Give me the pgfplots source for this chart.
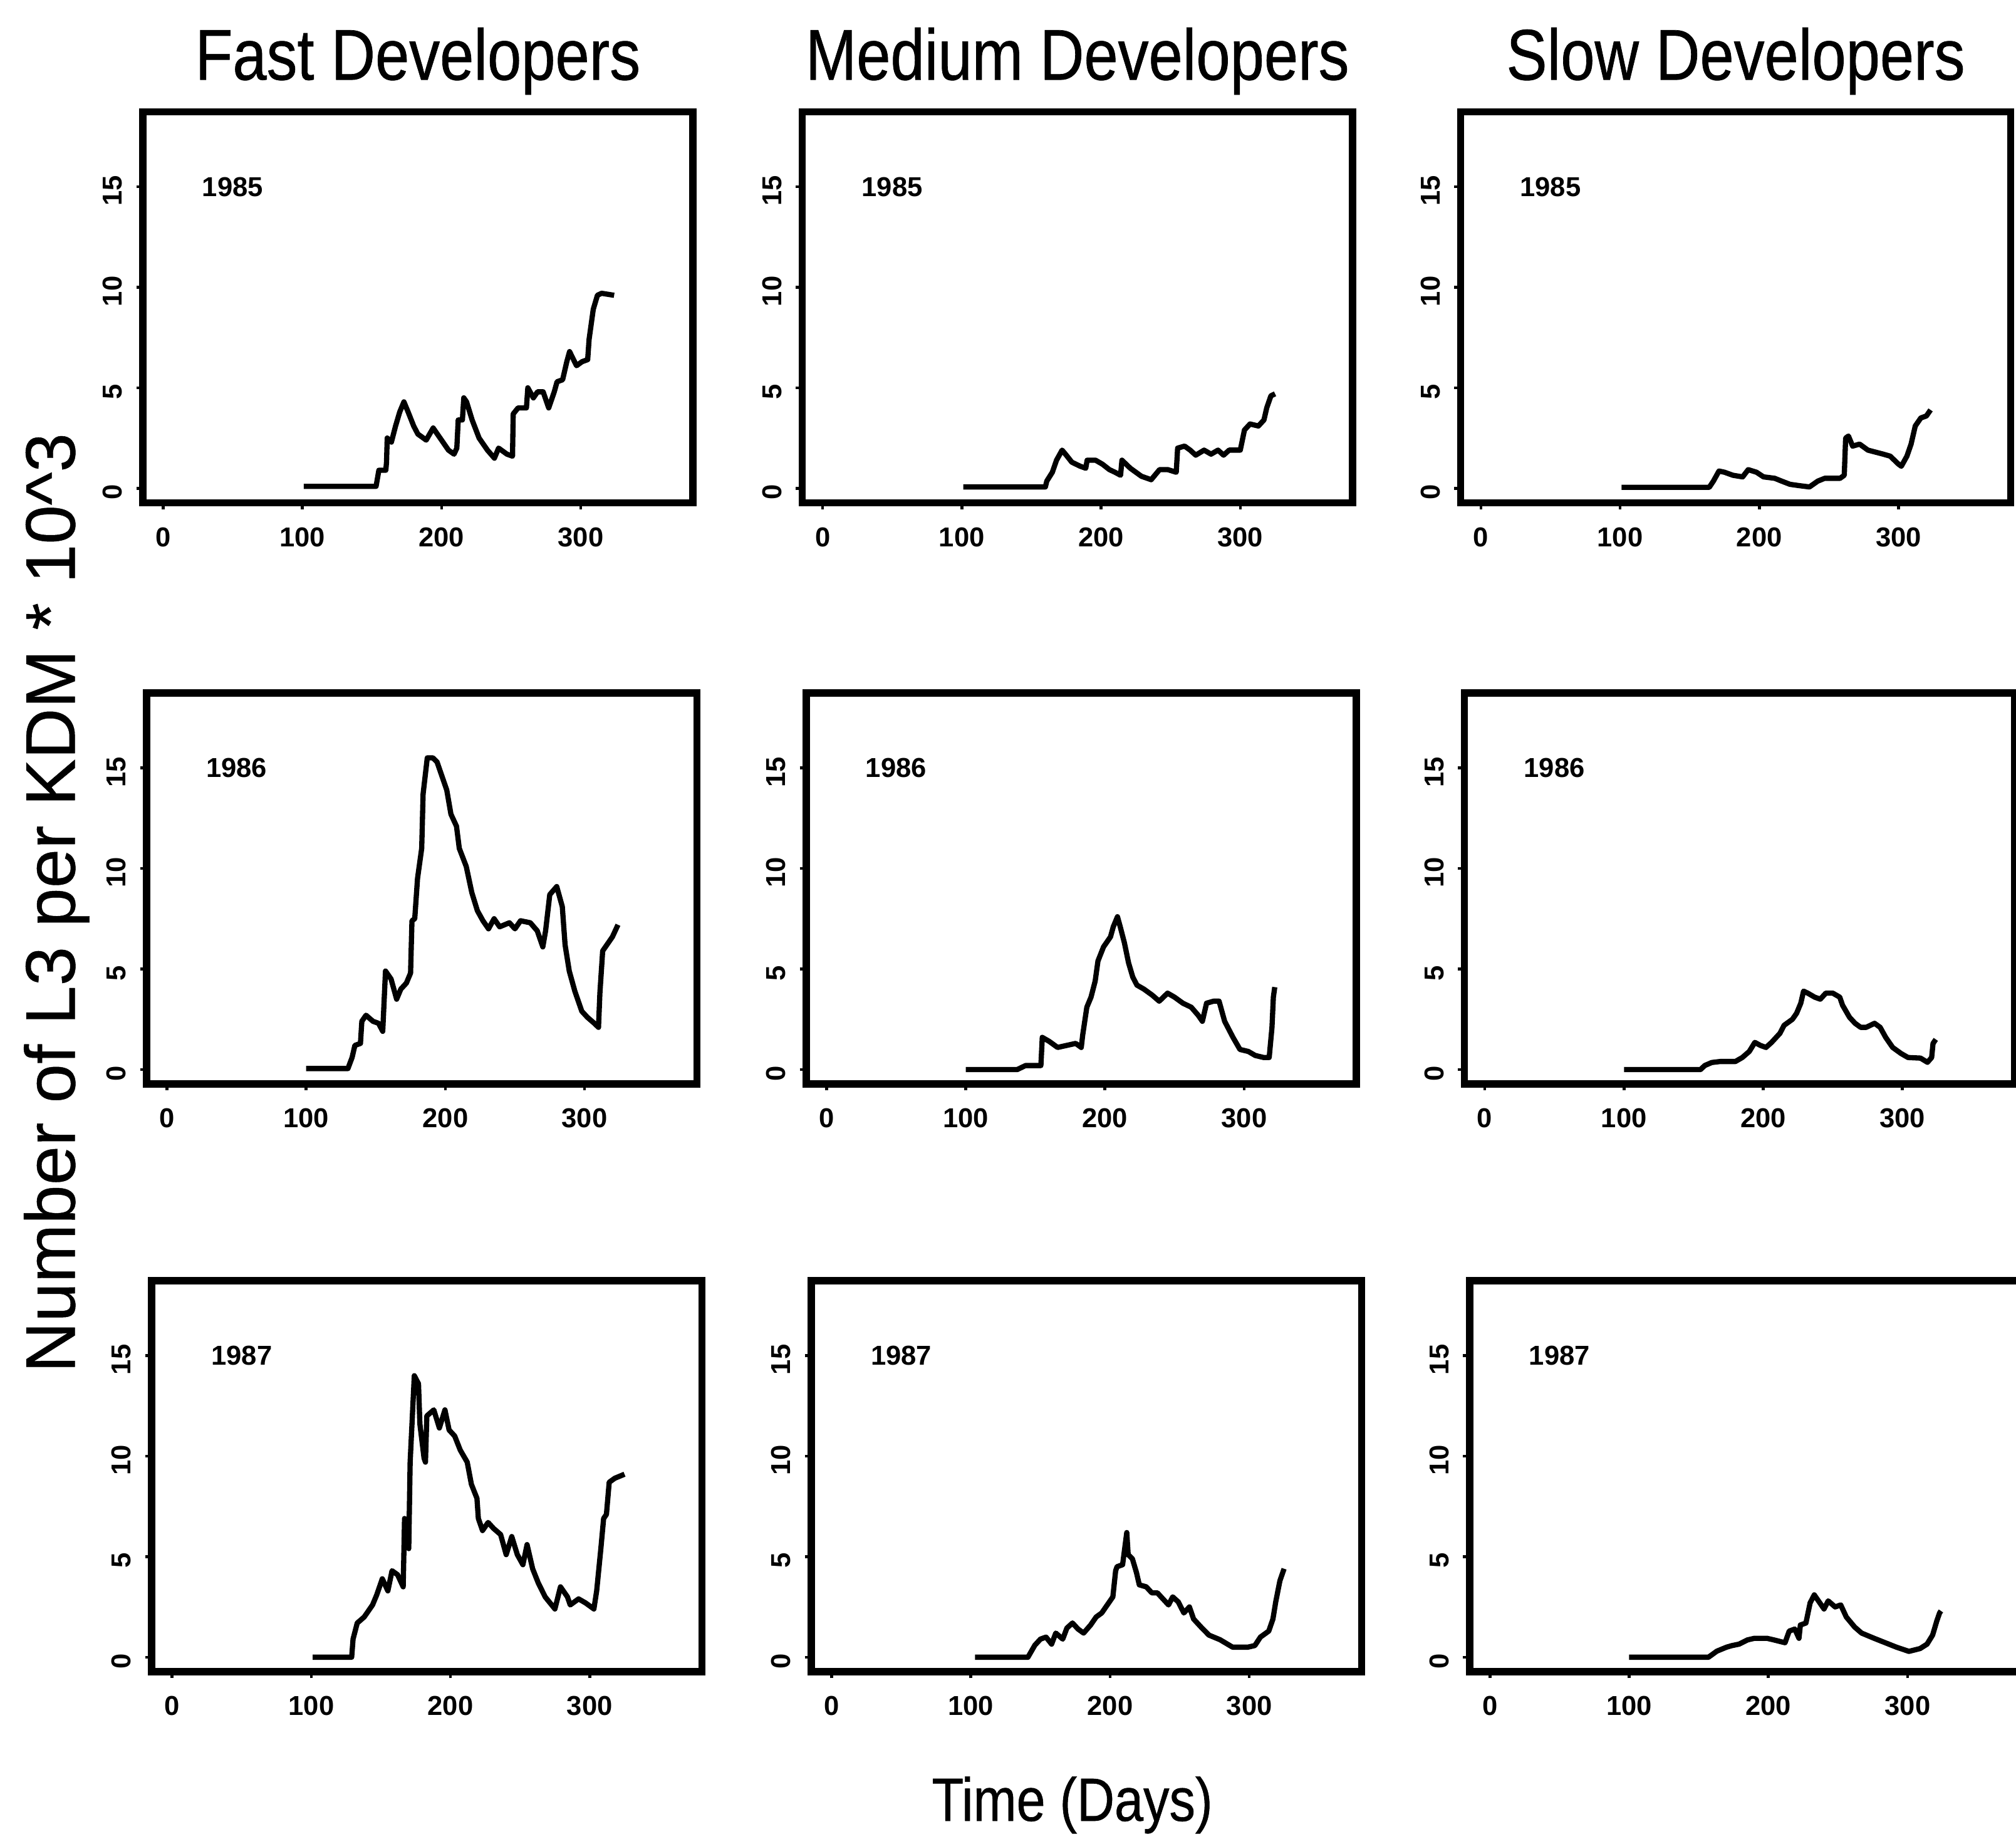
\documentclass[border=0pt]{standalone}
\usepackage{fontspec}
\setmainfont{Liberation Sans}
\newfontfamily\titlefont[FakeStretch=0.85, FakeBold=0.6]{Liberation Sans}
\newfontfamily\labelfont[FakeBold=0.4]{Liberation Sans}
\usepackage{pgfplots}
\pgfplotsset{compat=1.18}

\pgfplotsset{
  panel/.style={
    scale only axis,
    width=136.96pt, height=97.28pt,
    xmin=-14.64, xmax=380.64,
    ymin=-0.72, ymax=18.72,
    xtick={0,100,200,300}, ytick={0,5,10,15},
    xtick pos=bottom, ytick pos=left,
    tick align=outside,
    major tick length=1.6pt,
    tick style={black, line width=0.7pt},
    axis line style={line width=1.8pt},
    /pgf/number format/assume math mode=true,
    ticklabel style={font=\bfseries\fontsize{6.8}{7}\selectfont},
    xticklabel style={anchor=north, yshift=-1.0pt},
    yticklabel style={rotate=90, anchor=south, xshift=-1.0pt},
  },
  curve/.style={black, no marks, line width=1.3pt, line join=round},
}
\tikzset{year/.style={font=\bfseries\fontsize{6.8}{7}\selectfont}}

\begin{document}
\begin{tikzpicture}[x=0.32pt,y=0.32pt]
\useasboundingbox (0,0) rectangle (1568,1434);

% ---------- 1985 ----------
\begin{axis}[panel, at={(35.52pt,431.04pt)}, anchor=north west]
\addplot[curve] coordinates {(101,0.1)(153,0.1)(155,0.9)(160,0.9)(160.5,1.3)(161,2.5)(164,2.3)(167,3.1)(170,3.8)(173,4.3)(176,3.8)(180,3.1)(183,2.7)(189,2.4)(194,3.0)(200,2.4)(205,1.9)(209,1.7)(211,2.0)(212,3.4)(215,3.4)(216,4.5)(218,4.3)(222,3.4)(227,2.5)(233,1.9)(238,1.5)(241,2.0)(247,1.7)(251,1.6)(251.5,3.7)(255,4.0)(261,4.0)(262,5.0)(266,4.5)(269,4.8)(273,4.8)(277,4.0)(281,4.8)(283,5.3)(287,5.4)(290,6.3)(292,6.8)(297,6.1)(301,6.3)(305,6.4)(306,7.4)(309,8.9)(312,9.6)(315,9.7)(324,9.6)};
\node[year] at (axis cs:50,15) {1985};
\end{axis}

\begin{axis}[panel, at={(199.68pt,431.04pt)}, anchor=north west]
\addplot[curve] coordinates {(101,0.07)(160,0.07)(161,0.36)(165,0.8)(168,1.4)(172,1.9)(175,1.65)(179,1.3)(185,1.1)(189,1.0)(190,1.4)(196,1.4)(201,1.2)(206,0.93)(210,0.8)(214,0.65)(215,1.4)(221,1.0)(225,0.8)(229,0.6)(236,0.43)(242,0.93)(248,0.93)(254,0.8)(255,2.0)(260,2.1)(264,1.9)(268,1.65)(274,1.9)(279,1.7)(284,1.9)(288,1.65)(292,1.9)(300,1.9)(303,2.9)(307,3.2)(313,3.1)(317,3.4)(319,4.0)(322,4.6)(325,4.7)};
\node[year] at (axis cs:50,15) {1985};
\end{axis}

\begin{axis}[panel, at={(363.52pt,431.04pt)}, anchor=north west]
\addplot[curve] coordinates {(101,0.05)(164,0.05)(167,0.36)(171,0.86)(175,0.8)(181,0.65)(188,0.57)(192,0.93)(198,0.8)(203,0.57)(211,0.5)(216,0.36)(222,0.2)(228,0.14)(236,0.07)(242,0.36)(247,0.5)(258,0.5)(261,0.65)(262,2.5)(264,2.6)(267,2.1)(272,2.2)(278,1.9)(289,1.7)(294,1.6)(300,1.2)(302,1.1)(306,1.6)(309,2.2)(312,3.1)(316,3.5)(320,3.6)(323,3.9)};
\node[year] at (axis cs:50,15) {1985};
\end{axis}

% ---------- 1986 ----------
\begin{axis}[panel, at={(36.48pt,286.4pt)}, anchor=north west]
\addplot[curve] coordinates {(100,0.05)(130,0.05)(133,0.6)(135,1.2)(139,1.3)(140,2.4)(143,2.7)(148,2.4)(152,2.3)(155,1.9)(157,4.9)(161,4.5)(165,3.5)(168,4.0)(172,4.3)(175,4.8)(176,7.4)(178,7.5)(180,9.5)(183,11.0)(184,13.7)(187,15.5)(191,15.5)(194,15.3)(197,14.7)(201,13.9)(204,12.7)(208,12.1)(210,11.0)(215,10.1)(219,8.8)(223,7.9)(227,7.4)(231,7.0)(235,7.5)(239,7.1)(246,7.3)(250,7.0)(254,7.4)(261,7.3)(266,6.9)(270,6.1)(272,6.9)(275,8.7)(280,9.1)(284,8.1)(286,6.2)(289,4.9)(293,3.9)(298,2.9)(302,2.6)(307,2.3)(310,2.1)(311,3.8)(313,5.9)(316,6.2)(320,6.6)(324,7.2)};
\node[year] at (axis cs:50,15) {1986};
\end{axis}

\begin{axis}[panel, at={(200.64pt,286.4pt)}, anchor=north west]
\addplot[curve] coordinates {(100,0.0)(137,0.0)(143,0.2)(154,0.2)(155,1.6)(160,1.4)(166,1.1)(179,1.3)(183,1.1)(184,1.7)(187,3.1)(190,3.6)(193,4.4)(195,5.4)(199,6.1)(204,6.6)(206,7.1)(209,7.6)(211,7.1)(214,6.3)(217,5.3)(220,4.6)(223,4.2)(228,4.0)(234,3.7)(239,3.4)(245,3.8)(250,3.6)(256,3.3)(262,3.1)(267,2.7)(270,2.4)(273,3.3)(278,3.4)(282,3.4)(286,2.4)(292,1.6)(297,1.0)(303,0.9)(308,0.7)(314,0.6)(318,0.6)(320,2.1)(321,3.6)(322,4.1)};
\node[year] at (axis cs:50,15) {1986};
\end{axis}

\begin{axis}[panel, at={(364.48pt,286.4pt)}, anchor=north west]
\addplot[curve] coordinates {(100,0.0)(155,0.0)(158,0.2)(163,0.35)(169,0.4)(180,0.4)(185,0.6)(190,0.9)(194,1.35)(198,1.2)(202,1.1)(206,1.35)(212,1.8)(215,2.2)(221,2.5)(224,2.8)(227,3.3)(229,3.9)(232,3.8)(237,3.6)(241,3.5)(245,3.8)(250,3.8)(255,3.6)(257,3.2)(262,2.6)(266,2.3)(270,2.1)(274,2.1)(280,2.3)(284,2.1)(288,1.6)(293,1.1)(299,0.8)(304,0.6)(313,0.57)(318,0.36)(321,0.6)(322,1.3)(324,1.5)};
\node[year] at (axis cs:50,15) {1986};
\end{axis}

% ---------- 1987 ----------
\begin{axis}[panel, at={(37.76pt,140.16pt)}, anchor=north west]
\addplot[curve] coordinates {(101,0.0)(129,0.0)(130,0.9)(133,1.7)(138,2.0)(144,2.6)(147,3.1)(151,3.9)(155,3.3)(158,4.3)(162,4.1)(166,3.5)(167,6.9)(170,5.4)(171,9.7)(174,14.0)(177,13.6)(178,11.6)(181,9.9)(182,9.7)(183,12.0)(188,12.3)(192,11.4)(196,12.3)(199,11.3)(203,11.0)(207,10.3)(212,9.7)(215,8.6)(219,7.9)(220,6.9)(223,6.3)(227,6.7)(231,6.4)(236,6.1)(240,5.1)(244,6.0)(248,5.1)(252,4.6)(255,5.6)(259,4.4)(263,3.7)(268,3.0)(275,2.4)(279,3.5)(284,3.0)(286,2.6)(292,2.9)(297,2.7)(303,2.4)(305,3.3)(308,5.4)(310,6.9)(312,7.1)(314,8.7)(318,8.9)(325,9.1)};
\node[year] at (axis cs:50,15) {1987};
\end{axis}

\begin{axis}[panel, at={(201.92pt,140.16pt)}, anchor=north west]
\addplot[curve] coordinates {(103,0.0)(141,0.0)(146,0.6)(150,0.9)(154,1.0)(158,0.65)(161,1.2)(166,0.9)(169,1.45)(173,1.7)(177,1.4)(181,1.2)(186,1.6)(190,2.0)(194,2.2)(198,2.6)(202,3.0)(204,4.3)(205,4.5)(209,4.6)(212,6.2)(213,5.1)(216,4.9)(219,4.2)(221,3.6)(226,3.5)(230,3.2)(234,3.2)(238,2.9)(242,2.6)(245,3.0)(249,2.75)(253,2.2)(257,2.5)(260,1.9)(266,1.45)(271,1.1)(279,0.87)(288,0.5)(299,0.5)(304,0.58)(308,1.0)(314,1.3)(317,1.9)(319,2.75)(322,3.8)(325,4.4)};
\node[year] at (axis cs:50,15) {1987};
\end{axis}

\begin{axis}[panel, at={(365.76pt,140.16pt)}, anchor=north west]
\addplot[curve] coordinates {(100,0.0)(157,0.0)(163,0.3)(170,0.5)(174,0.58)(179,0.65)(185,0.86)(190,0.94)(199,0.94)(204,0.86)(212,0.72)(215,1.3)(219,1.4)(222,0.94)(223,1.6)(227,1.7)(230,2.7)(233,3.1)(237,2.7)(240,2.4)(243,2.8)(248,2.5)(252,2.6)(256,2.0)(262,1.5)(267,1.2)(276,0.94)(284,0.72)(292,0.5)(301,0.29)(309,0.43)(314,0.65)(318,1.1)(321,1.8)(323,2.2)(324,2.3)};
\node[year] at (axis cs:50,15) {1987};
\end{axis}

% ---------- titles and axis labels ----------
\begin{scope}[every node/.style={inner sep=0pt}]
\node[anchor=base, font=\titlefont\fontsize{17.9}{18}\selectfont] at (325,1372) {Fast Developers};
\node[anchor=base, font=\titlefont\fontsize{17.9}{18}\selectfont] at (838,1372) {Medium Developers};
\node[anchor=base, font=\titlefont\fontsize{17.9}{18}\selectfont] at (1350,1372) {Slow Developers};
\node[anchor=base, font=\titlefont\fontsize{15.2}{16}\selectfont] at (834,18) {Time (Days)};
\node[rotate=90, font=\labelfont\fontsize{17.5}{18}\selectfont] at (44,732) {Number of L3 per KDM * 10\^{}3};
\end{scope}
\end{tikzpicture}
\end{document}
